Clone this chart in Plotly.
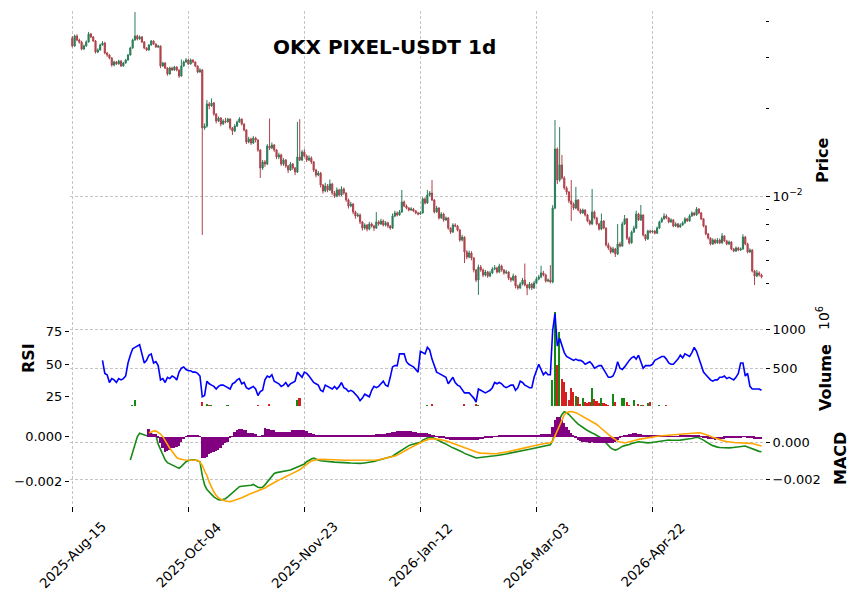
import pandas as pd
import plotly.graph_objects as go

# ---------------- data (prices in 1e-5 USDT, volume in millions) ----------------
start_date = "2025-08-15"
open_first = 3505
close_px = [
    3290, 3563, 3451, 3397, 3211, 3291, 3397, 3621, 3535, 3424,
    3137, 3187, 3317, 3370, 3112, 3063, 2991, 2829, 2898, 2852,
    2921, 2807, 2875, 2944, 3063, 3239, 3451, 3563, 3479, 3535,
    3397, 3239, 3187, 3317, 3424, 3343, 3264, 3291, 2807, 2875,
    2763, 2634, 2763, 2719, 2785, 2719, 2592, 2807, 2898, 2944,
    2852, 2944, 2898, 2807, 2677, 2719, 1716, 1743, 2076, 2044,
    2093, 1918, 1814, 1858, 1771, 1814, 1800, 1843, 1716, 1676,
    1743, 1800, 1843, 1771, 1689, 1535, 1572, 1523, 1584, 1560,
    1441, 1249, 1310, 1289, 1487, 1464, 1499, 1441, 1363, 1385,
    1289, 1331, 1269, 1229, 1289, 1249, 1210, 1363, 1331, 1419,
    1374, 1331, 1352, 1310, 1229, 1181, 1200, 1091, 1041, 1083,
    1049, 1100, 1024, 1000, 1049, 1008, 1057, 1024, 969, 923,
    938, 881, 853, 860, 814, 775, 794, 769, 801, 788,
    775, 814, 801, 820, 794, 808, 788, 775, 853, 874,
    860, 881, 954, 923, 909, 895, 902, 888, 874, 867,
    874, 977, 946, 1008, 1024, 969, 881, 909, 840, 867,
    827, 840, 775, 751, 794, 788, 763, 705, 722, 641,
    616, 636, 611, 556, 513, 569, 556, 534, 547, 530,
    543, 560, 565, 547, 574, 556, 543, 547, 521, 513,
    530, 489, 482, 497, 513, 493, 482, 497, 482, 501,
    517, 526, 543, 534, 509, 513, 505, 909, 1452, 1135,
    1279, 1154, 1066, 1032, 962, 938, 909, 969, 895, 874,
    895, 860, 820, 801, 881, 840, 801, 769, 820, 775,
    678, 662, 641, 657, 631, 683, 672, 801, 834, 716,
    689, 751, 775, 867, 827, 860, 734, 711, 757, 751,
    757, 744, 775, 814, 834, 853, 840, 814, 827, 788,
    801, 782, 794, 808, 834, 820, 853, 874, 860, 902,
    874, 834, 788, 740, 716, 683, 705, 689, 705, 689,
    728, 700, 683, 694, 657, 646, 662, 651, 657, 722,
    683, 641, 651, 551, 530, 543, 534, 526,
]
high_px = [
    3560, 3600, 3610, 3490, 3430, 3330, 3440, 3680, 3650, 3560,
    3450, 3230, 3350, 3420, 3400, 3140, 3080, 3010, 2930, 2920,
    2950, 2940, 2900, 2970, 3090, 3270, 3490, 4310, 3600, 3580,
    3560, 3420, 3260, 3340, 3450, 3440, 3360, 3320, 3300, 2900,
    2890, 2780, 2790, 2790, 2810, 2800, 2730, 2960, 2930, 2990,
    2970, 2980, 2960, 2910, 2820, 2760, 2740, 1780, 2143, 2110,
    2170, 2110, 1930, 1880, 1870, 1840, 1860, 1860, 1850, 1730,
    1770, 1820, 1870, 1850, 1780, 1700, 1600, 1590, 1610, 1600,
    1570, 1450, 1330, 1330, 1510, 1850, 1530, 1510, 1450, 1410,
    1400, 1350, 1340, 1280, 1310, 1300, 1260, 1800, 1840, 1440,
    1450, 1390, 1380, 1370, 1320, 1240, 1220, 1210, 1100, 1110,
    1100, 1140, 1110, 1040, 1070, 1060, 1080, 1070, 1030, 980,
    955, 945, 890, 875, 870, 820, 805, 800, 815, 810,
    795, 880, 825, 835, 830, 820, 815, 795, 870, 890,
    885, 895, 1049, 965, 935, 915, 915, 910, 895, 882,
    885, 990, 990, 1049, 1040, 1135, 975, 925, 915, 880,
    875, 850, 845, 780, 805, 805, 795, 770, 735, 725,
    650, 648, 645, 615, 560, 580, 578, 562, 556, 552,
    552, 568, 578, 570, 584, 580, 560, 556, 550, 525,
    540, 533, 495, 505, 522, 585, 498, 505, 502, 510,
    526, 535, 575, 552, 540, 520, 578, 930, 1828, 1470,
    1728, 1385, 1170, 1080, 1040, 1135, 950, 1075, 975, 905,
    905, 900, 868, 830, 1057, 890, 848, 808, 870, 825,
    780, 690, 670, 668, 662, 800, 695, 815, 860, 840,
    725, 760, 790, 890, 875, 931, 865, 740, 765, 765,
    765, 763, 785, 822, 845, 872, 865, 845, 838, 832,
    812, 808, 805, 818, 845, 840, 865, 885, 882, 916,
    908, 880, 838, 793, 746, 720, 715, 712, 716, 714,
    745, 733, 706, 702, 698, 662, 670, 668, 665, 738,
    728, 690, 660, 656, 556, 556, 550, 540,
]
low_px = [
    3250, 3270, 3420, 3350, 3180, 3190, 3270, 3380, 3500, 3400,
    3100, 3110, 3170, 3300, 3080, 3020, 2960, 2790, 2800, 2830,
    2840, 2790, 2790, 2860, 2930, 3050, 3220, 3430, 3440, 3460,
    3370, 3210, 3160, 3170, 3300, 3320, 3240, 3240, 2760, 2790,
    2740, 2600, 2620, 2700, 2700, 2690, 2555, 2580, 2790, 2880,
    2830, 2840, 2870, 2780, 2650, 2660, 734, 1690, 1720, 1990,
    2030, 1890, 1780, 1800, 1740, 1760, 1780, 1790, 1690, 1623,
    1660, 1730, 1790, 1750, 1670, 1510, 1520, 1500, 1510, 1530,
    1420, 1154, 1230, 1260, 1280, 1440, 1450, 1420, 1340, 1340,
    1270, 1270, 1250, 1200, 1220, 1230, 1180, 1200, 1320, 1320,
    1360, 1310, 1320, 1290, 1210, 1160, 1170, 1070, 1020, 1030,
    1030, 1040, 1010, 985, 990, 995, 1000, 1010, 955, 905,
    915, 865, 835, 845, 800, 760, 765, 755, 762, 778,
    758, 770, 790, 795, 785, 785, 775, 765, 770, 845,
    850, 855, 875, 915, 900, 885, 888, 880, 865, 858,
    860, 870, 935, 940, 995, 960, 870, 875, 830, 835,
    815, 820, 765, 740, 745, 780, 755, 695, 698, 587,
    605, 610, 600, 545, 505, 456, 548, 525, 528, 522,
    525, 538, 555, 540, 542, 548, 535, 538, 513, 505,
    508, 480, 475, 478, 492, 488, 455, 476, 474, 478,
    496, 512, 520, 528, 503, 505, 500, 500, 900, 1100,
    1120, 1140, 1050, 1010, 945, 820, 895, 900, 885, 865,
    868, 850, 812, 792, 795, 830, 792, 760, 762, 768,
    670, 652, 632, 636, 616, 626, 665, 668, 795, 705,
    680, 685, 745, 770, 820, 820, 725, 700, 705, 742,
    745, 737, 740, 770, 808, 828, 832, 805, 808, 780,
    782, 775, 776, 790, 803, 814, 815, 848, 852, 855,
    866, 826, 780, 732, 708, 676, 678, 682, 684, 682,
    685, 694, 676, 678, 650, 640, 641, 645, 646, 652,
    676, 634, 636, 545, 493, 525, 528, 520,
]
volume_m = [
    12, 9, 8, 10, 11, 9, 7, 12, 8, 9,
    10, 8, 7, 9, 11, 8, 9, 12, 8, 7,
    9, 8, 10, 11, 12, 15, 24, 94, 22, 12,
    10, 9, 8, 9, 10, 8, 9, 8, 15, 9,
    8, 10, 9, 8, 7, 8, 11, 12, 9, 8,
    8, 7, 8, 9, 12, 10, 72, 15, 42, 30,
    25, 20, 12, 11, 12, 10, 11, 25, 12, 14,
    10, 9, 10, 11, 12, 14, 11, 10, 9, 12,
    28, 18, 11, 10, 12, 40, 12, 10, 11, 9,
    10, 9, 10, 12, 9, 10, 11, 94, 123, 22,
    10, 9, 8, 9, 11, 12, 9, 14, 12, 9,
    8, 9, 10, 8, 9, 8, 9, 8, 10, 11,
    9, 10, 11, 9, 10, 12, 9, 8, 9, 8,
    9, 22, 8, 9, 8, 9, 8, 9, 22, 9,
    8, 9, 22, 10, 9, 8, 9, 8, 9, 8,
    9, 12, 10, 35, 15, 45, 22, 10, 9, 8,
    9, 8, 10, 9, 8, 9, 10, 11, 9, 45,
    12, 10, 9, 11, 45, 25, 10, 9, 8, 9,
    8, 9, 8, 9, 10, 8, 9, 8, 9, 10,
    9, 10, 9, 8, 9, 10, 11, 9, 8, 9,
    10, 9, 11, 10, 9, 12, 14, 350, 1226, 542,
    969, 359, 328, 200, 94, 244, 200, 145, 128, 40,
    120, 68, 55, 68, 244, 107, 80, 55, 120, 55,
    45, 35, 15, 170, 68, 20, 20, 120, 120, 68,
    35, 15, 94, 15, 45, 35, 35, 15, 55, 68,
    12, 10, 11, 25, 10, 9, 25, 12, 10, 9,
    10, 9, 8, 9, 10, 9, 11, 10, 22, 9,
    10, 11, 9, 12, 10, 9, 10, 12, 22, 10,
    22, 9, 10, 22, 12, 10, 9, 8, 10, 22,
    9, 10, 9, 12, 14, 10, 9, 8,
]
rsi_start = 13
rsi = [
    53, 43, 42, 36, 39, 38, 36, 39, 38, 39,
    41, 51, 57, 62, 63, 64, 65, 58, 51, 53,
    57, 58, 51, 52, 49, 38, 39, 36, 40, 39,
    41, 40, 38, 44, 47, 48, 46, 45, 45, 44,
    44, 43, 41, 25, 26, 37, 35, 34, 33, 31,
    33, 34, 34, 33, 32, 31, 35, 36, 38, 39,
    35, 36, 32, 31, 32, 33, 31, 26, 29, 30,
    38, 41, 40, 42, 37, 36, 35, 33, 34, 36,
    33, 35, 36, 37, 44, 42, 40, 44, 43, 41,
    38, 36, 35, 34, 30, 29, 34, 33, 32, 31,
    33, 31, 33, 36, 32, 31, 29, 30, 29, 27,
    25, 22, 24, 27, 26, 25, 30, 33, 32, 33,
    35, 37, 34, 33, 40, 48, 49, 49, 58, 58,
    58, 52, 50, 49, 48, 46, 44, 60, 59, 58,
    63, 61, 54, 48, 44, 43, 42, 41, 40, 35,
    38, 40, 36, 34, 33, 30, 28, 28, 28, 26,
    24, 21, 31, 30, 29, 28, 29, 30, 32, 36,
    35, 36, 35, 33, 32, 33, 34, 34, 30, 32,
    37, 36, 34, 33, 32, 32, 40, 45, 50, 46,
    42, 44, 42, 42, 76, 89, 64, 70, 64, 59,
    56, 55, 54, 53, 54, 53, 53, 52, 50, 51,
    52, 50, 47, 48, 49, 49, 46, 42, 40, 40,
    41, 45, 52, 47, 46, 48, 51, 53, 55, 56,
    54, 57, 52, 47, 49, 49, 49, 50, 53, 54,
    55, 56, 56, 54, 51, 50, 50, 52, 54, 57,
    55, 58, 57, 56, 59, 63, 60, 55, 50, 44,
    42, 40, 38, 37, 38, 38, 40, 40, 41, 39,
    40, 39, 38, 40, 43, 51, 51, 41, 43, 33,
    31, 31, 31, 31, 30,
]
# MACD values in 1e-5 units
macd_start = 25
macd = [
    -96, -50, -5, 30, 49, 45, 42, 36, 40, 45,
    40, 38, -10, -40, -70, -95, -110, -117, -122, -128,
    -135, -141, -130, -115, -105, -98, -95, -94, -96, -100,
    -105, -180, -230, -255, -270, -285, -295, -303, -310, -312,
    -310, -305, -295, -285, -275, -265, -250, -240, -238, -237,
    -235, -234, -232, -228, -238, -243, -245, -243, -230, -215,
    -200, -180, -168, -164, -162, -160, -158, -155, -152, -150,
    -144, -138, -132, -126, -121, -117, -105, -95, -90, -86,
    -89, -96, -100, -102, -104, -105, -106, -106, -107, -107,
    -108, -108, -109, -110, -111, -112, -113, -113, -114, -114,
    -113, -112, -110, -108, -106, -104, -100, -97, -94, -90,
    -87, -84, -82, -75, -66, -58, -50, -38, -30, -24,
    -18, -13, -9, -6, -4, 0, 12, 18, 26, 29,
    27, 20, 14, 8, 2, -4, -10, -18, -26, -30,
    -35, -40, -47, -52, -60, -66, -71, -75, -80, -85,
    -84, -83, -82, -81, -80, -78, -76, -73, -71, -70,
    -68, -65, -63, -60, -58, -55, -53, -50, -48, -45,
    -43, -40, -38, -35, -32, -30, -27, -24, -22, -19,
    -17, -14, 10, 60, 100, 125, 150, 165, 160, 150,
    135, 122, 110, 98, 88, 80, 72, 64, 55, 50,
    45, 38, 30, 22, 10, -5, -18, -30, -38, -42,
    -38, -28, -22, -18, -16, -12, -6, -2, 2, 3,
    2, -1, -3, -3, -2, 0, 2, 4, 7, 9,
    11, 12, 12, 11, 10, 10, 11, 12, 13, 15,
    17, 19, 21, 24, 27, 25, 20, 12, 4, -5,
    -12, -18, -23, -26, -28, -29, -30, -30, -30, -29,
    -28, -27, -25, -23, -20, -20, -25, -30, -37, -42,
    -46, -49, -51,
]
signal_start = 33
signal = [
    18, 22, 25, 26, 20, 12, 0, -20, -35, -52,
    -68, -82, -94, -100, -103, -104, -105, -105, -105, -105,
    -105, -106, -115, -130, -155, -175, -205, -232, -250, -265,
    -276, -282, -287, -290, -292, -293, -290, -287, -284, -280,
    -276, -271, -265, -261, -257, -253, -249, -246, -242, -238,
    -232, -225, -218, -212, -207, -201, -196, -190, -185, -180,
    -175, -170, -165, -160, -155, -149, -141, -132, -124, -117,
    -110, -107, -104, -103, -102, -102, -102, -102, -103, -103,
    -104, -104, -105, -105, -106, -106, -107, -107, -107, -108,
    -108, -108, -108, -108, -108, -107, -107, -106, -105, -104,
    -102, -100, -98, -96, -94, -91, -87, -83, -78, -72,
    -66, -60, -54, -48, -42, -37, -32, -27, -22, -17,
    -13, -10, -9, -9, -10, -12, -14, -16, -19, -22,
    -26, -30, -34, -38, -42, -46, -50, -54, -58, -62,
    -66, -70, -72, -74, -75, -76, -77, -77, -77, -77,
    -76, -75, -73, -71, -69, -67, -65, -62, -60, -58,
    -56, -54, -51, -49, -46, -43, -40, -38, -36, -34,
    -32, -30, -28, -27, -20, 5, 30, 55, 80, 98,
    108, 113, 114, 112, 108, 103, 97, 92, 86, 80,
    75, 69, 62, 55, 46, 36, 27, 17, 10, 2,
    -6, -14, -20, -24, -26, -27, -26, -24, -21, -18,
    -15, -12, -10, -8, -6, -4, -2, 0, 1, 2,
    3, 4, 5, 6, 7, 8, 8, 9, 10, 11,
    12, 13, 14, 15, 16, 17, 18, 18, 17, 14,
    10, 6, 2, -3, -7, -11, -14, -17, -20, -22,
    -24, -25, -26, -27, -27, -27, -27, -28, -29, -30,
    -31, -34, -37, -40, -42,
]
hist = [
    33, 15, 12, 10, -5, -30, -53, -68, -65, -58,
    -53, -50, -46, -40, -23, -12, 3, 6, 8, 9,
    8, 6, 3, -98, -95, -90, -80, -75, -68, -64,
    -60, -50, -38, -30, -23, -8, 3, 20, 30, 33,
    33, 32, 30, 18, 16, 15, 14, 3, 2, 4,
    38, 36, 34, 32, 30, 20, 20, 21, 20, 19,
    20, 22, 30, 31, 30, 30, 29, 30, 28, 15,
    15, 14, 6, 5, 4, 5, 4, 5, 4, 5,
    5, 4, 5, 5, 4, 5, 4, 5, 5, 4,
    5, 5, 6, 7, 7, 8, 8, 9, 10, 11,
    12, 13, 14, 15, 16, 19, 22, 24, 26, 28,
    27, 26, 25, 24, 22, 20, 18, 17, 18, 17,
    16, 13, 9, 5, 2, -2, -5, -8, -10, -12,
    -13, -14, -15, -15, -16, -16, -16, -16, -15, -15,
    -14, -14, -13, -12, -10, -8, -6, -4, -2, 1,
    3, 5, 6, 7, 7, 8, 8, 8, 8, 8,
    8, 9, 9, 9, 9, 9, 9, 9, 9, 10,
    10, 11, 12, 14, 45, 75, 90, 88, 75, 60,
    45, 30, 15, 5, -5, -15, -20, -23, -25, -26,
    -27, -26, -27, -28, -28, -27, -28, -30, -29, -28,
    -27, -24, -15, -5, 2, 5, 8, 10, 13, 15,
    15, 14, 12, 8, 6, 5, 4, 5, 5, 6,
    6, 6, 5, 5, 4, 3, 3, 3, 3, 4,
    4, 4, 5, 5, 6, 6, 7, 5, 2, -3,
    -6, -9, -11, -12, -13, -12, -11, -10, -9, -8,
    -7, -6, -5, -4, -3, -2, 2, 3, -2, -5,
    -8, -9, -10, -10, -10,
]
tick_labels = ["2025-Aug-15", "2025-Oct-04", "2025-Nov-23",
               "2026-Jan-12", "2026-Mar-03", "2026-Apr-22"]
title_text = "OKX PIXEL-USDT 1d"

# ---------------- derived ----------------
PX = 1e-5
n = len(close_px)
dates = pd.date_range(start_date, periods=n, freq="D")
close = [v * PX for v in close_px]
opens = [open_first * PX] + close[:-1]
high = [v * PX for v in high_px]
low = [v * PX for v in low_px]
up = [c >= o for c, o in zip(close, opens)]

UP_C, DN_C = "#2a7d5a", "#b0424b"
VOL_UP, VOL_DN = "#138a13", "#d42020"
FONT = "DejaVu Sans"
DAY_MS = 86400000
GRID = dict(showgrid=True, gridcolor="#c4c4c4", gridwidth=0.8, griddash="3px,2px")

fig = go.Figure()
fig.add_trace(go.Candlestick(
    x=dates, open=opens, high=high, low=low, close=close,
    increasing=dict(line=dict(color=UP_C, width=1), fillcolor=UP_C),
    decreasing=dict(line=dict(color=DN_C, width=1), fillcolor=DN_C),
    whiskerwidth=0, xaxis="x", yaxis="y5", showlegend=False))
fig.add_trace(go.Bar(
    x=dates, y=volume_m, width=0.7 * DAY_MS,
    marker=dict(color=[VOL_UP if u else VOL_DN for u in up], line=dict(width=0)),
    xaxis="x", yaxis="y3", showlegend=False))
fig.add_trace(go.Scatter(
    x=dates[rsi_start:rsi_start + len(rsi)], y=rsi, mode="lines",
    line=dict(color="#0000ff", width=1.6), xaxis="x", yaxis="y4", showlegend=False))
fig.add_trace(go.Scatter(
    x=dates[macd_start:macd_start + len(macd)], y=[v * PX for v in macd], mode="lines",
    line=dict(color="#178a17", width=1.6), xaxis="x", yaxis="y", showlegend=False))
fig.add_trace(go.Bar(
    x=dates[signal_start:signal_start + len(hist)], y=[v * PX for v in hist],
    width=0.8 * DAY_MS, marker=dict(color="#800080", line=dict(width=0)),
    xaxis="x", yaxis="y2", showlegend=False))
fig.add_trace(go.Scatter(
    x=dates[signal_start:signal_start + len(signal)], y=[v * PX for v in signal], mode="lines",
    line=dict(color="#ffa500", width=1.6), xaxis="x", yaxis="y2", showlegend=False))

# ---------------- layout ----------------
L, R, T, B = 70, 94, 11, 93
W, H = 859, 599
PW, PH = W - L - R, H - T - B
d_macd = [0, 100 / PH]
d_vol = [100 / PH, 199 / PH]
d_main = [199 / PH, 1]

tick_dates = pd.to_datetime(tick_labels, format="%Y-%b-%d")
x_range = [dates[0] - pd.Timedelta(days=1), dates[-1] + pd.Timedelta(hours=36)]
tickfont = dict(family=FONT, size=13, color="black")
common_y = dict(ticks="outside", ticklen=4, tickcolor="black", tickwidth=1,
                showline=False, zeroline=False, tickfont=tickfont, fixedrange=True)

fig.update_layout(
    width=W, height=H, margin=dict(l=L, r=R, t=T, b=B),
    paper_bgcolor="white", plot_bgcolor="white", showlegend=False,
    font=dict(family=FONT, color="black"), bargap=0,
    xaxis=dict(type="date", range=x_range, domain=[0, 1], anchor="y",
               tickvals=tick_dates, showticklabels=False, ticks="outside",
               ticklen=5, tickcolor="black", zeroline=False, showline=False,
               rangeslider=dict(visible=False), **GRID),
    yaxis=dict(domain=d_macd, side="right", anchor="x",
               range=[-0.0034432, 0.0019622], tickvals=[-0.002, 0.0],
               ticktext=["\u22120.002", "0.000"], **GRID, **common_y),
    yaxis2=dict(overlaying="y", side="left", anchor="x",
                range=[-0.0031287, 0.001386], tickvals=[-0.002, 0.0],
                ticktext=["\u22120.002", "0.000"], showgrid=False, **common_y),
    yaxis3=dict(domain=d_vol, side="right", anchor="x", range=[16.7, 1285.9],
                tickvals=[500, 1000], ticktext=["500", "1000"], **GRID, **common_y),
    yaxis4=dict(overlaying="y3", side="left", anchor="x", range=[17.92, 94.08],
                tickvals=[25, 50, 75], ticktext=["25", "50", "75"], showgrid=False, **common_y),
    yaxis5=dict(domain=d_main, side="right", anchor="x", type="log",
                range=[-2.38276, -1.36207], tickvals=[0.01],
                ticktext=["10<sup>\u22122</sup>"],
                minor=dict(tickvals=[0.005, 0.006, 0.007, 0.008, 0.009, 0.02, 0.03, 0.04],
                           ticks="outside", ticklen=3, tickcolor="black", showgrid=False),
                **GRID, **common_y),
)

def px_x(x):
    return (x - L) / PW

def px_y(y):
    return (H - B - y) / PH

ann = []
for lab, d in zip(tick_labels, tick_dates):
    ann.append(dict(x=d, y=px_y(555), xref="x", yref="paper", text=lab, showarrow=False,
                    textangle=-45, xanchor="center", yanchor="middle",
                    font=dict(family=FONT, size=13.5, color="black")))
bold = dict(family=FONT, size=16, color="black")
ann += [
    dict(x=px_x(384), y=px_y(47), text="<b>%s</b>" % title_text, font=dict(family=FONT, size=20, color="black")),
    dict(x=px_x(822), y=px_y(160), text="<b>Price</b>", textangle=-90, font=bold),
    dict(x=px_x(825), y=px_y(377), text="<b>Volume</b>", textangle=-90, font=bold),
    dict(x=px_x(823), y=px_y(318), text="10<sup>6</sup>", textangle=-90,
         font=dict(family=FONT, size=14, color="black")),
    dict(x=px_x(840), y=px_y(459), text="<b>MACD</b>", textangle=-90, font=bold),
    dict(x=px_x(28), y=px_y(358), text="<b>RSI</b>", textangle=-90, font=bold),
]
for a in ann[len(tick_labels):]:
    a.update(xref="paper", yref="paper", showarrow=False, xanchor="center", yanchor="middle")
fig.update_layout(annotations=ann)

fig.write_html("out.html")
